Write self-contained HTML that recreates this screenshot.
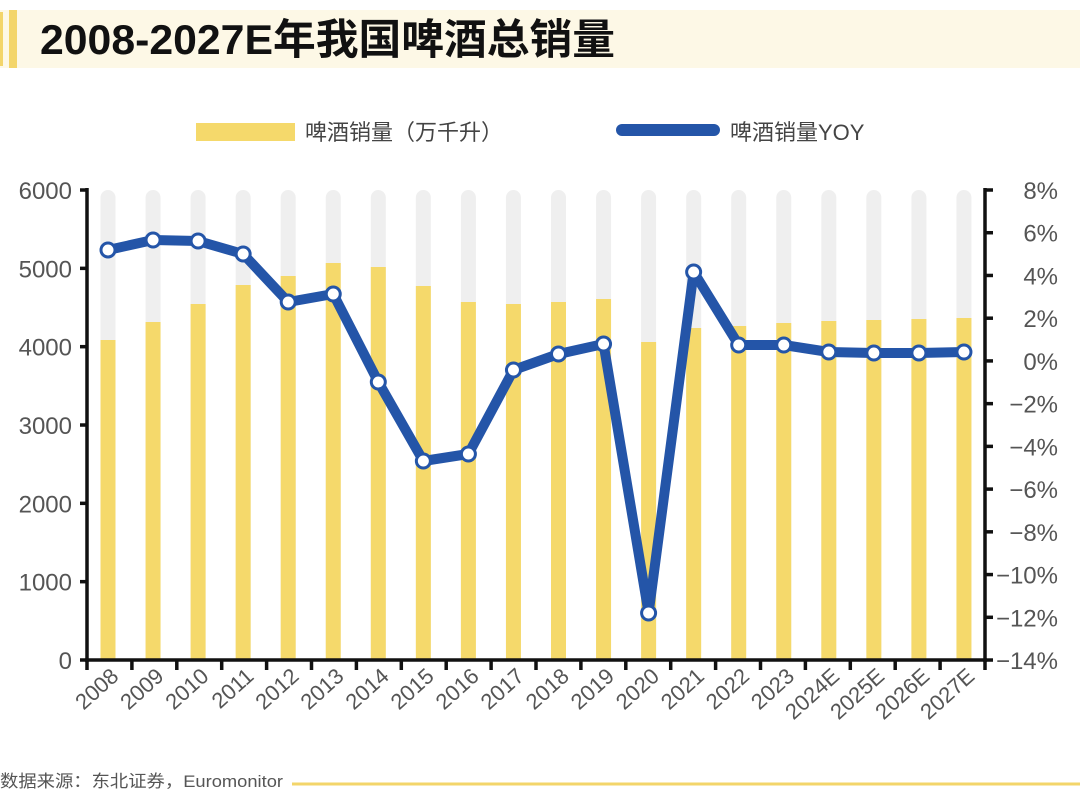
<!DOCTYPE html>
<html><head><meta charset="utf-8"><style>
body{margin:0;background:#fff;width:1080px;height:798px;overflow:hidden;font-family:"Liberation Sans","Noto Sans CJK SC",sans-serif;}
</style></head><body>
<svg width="1080" height="798" xmlns="http://www.w3.org/2000/svg" font-family="Liberation Sans, Noto Sans CJK SC, sans-serif">
<rect x="0" y="10" width="1080" height="58" fill="#fdf8e6"/>
<rect x="0" y="12" width="3" height="54" fill="#f3d56a"/>
<rect x="9" y="10" width="8" height="58" fill="#f3d56a"/>
<text x="40" y="54" font-size="42" font-weight="bold" fill="#111" textLength="575" lengthAdjust="spacingAndGlyphs">2008-2027E年我国啤酒总销量</text>
<rect x="196" y="123" width="99" height="18" fill="#f5d96b"/>
<text x="305" y="140" font-size="22" fill="#444">啤酒销量（万千升）</text>
<line x1="622" y1="130" x2="714" y2="130" stroke="#2455a8" stroke-width="12" stroke-linecap="round"/>
<text x="730" y="140" font-size="22" fill="#444">啤酒销量YOY</text>
<g id="bars"></g>
<g id="axes" stroke="#111" stroke-width="3.5" fill="none"></g>
<g id="lbl" fill="#555" font-size="24"></g>
<text x="0" y="787" font-size="17" fill="#555" textLength="283" lengthAdjust="spacingAndGlyphs">数据来源：东北证券，Euromonitor</text>
<line x1="292" y1="784" x2="1080" y2="784" stroke="#f3d56a" stroke-width="3"/>
</svg>
<script>
const ns="http://www.w3.org/2000/svg";
const svg=document.querySelector('svg');
function el(t,a,p){const e=document.createElementNS(ns,t);for(const k in a)e.setAttribute(k,a[k]);(p||svg).appendChild(e);return e;}
const tops=[340,322,304,285,276,263,267,286,302,304,302,299,342,328,326,323,321,320,319,318];
const pts=[250,240,241,254,302,294,382,461,454,370,354,344,613,272,345,345,352,353,353,352];
const labels=["2008","2009","2010","2011","2012","2013","2014","2015","2016","2017","2018","2019","2020","2021","2022","2023","2024E","2025E","2026E","2027E"];
const bars=document.getElementById('bars');
const cx=i=>108+45.05*i;
for(let i=0;i<20;i++){
 const x=cx(i);
 el('rect',{x:x-7.5,y:190,width:15,height:470,rx:7.5,fill:'#efefef'},bars);
 el('rect',{x:x-7.5,y:tops[i],width:15,height:660-tops[i],fill:'#f5d96b'},bars);
}
const ax=document.getElementById('axes');
el('line',{x1:87,y1:188,x2:87,y2:662},ax);
el('line',{x1:985,y1:188,x2:985,y2:662},ax);
el('line',{x1:85,y1:660,x2:987,y2:660},ax);
for(let i=0;i<=20;i++){const x=87+44.9*i;el('line',{x1:x,y1:660,x2:x,y2:670},ax);}
const lbl=document.getElementById('lbl');
for(let k=0;k<=6;k++){const y=660-78.33*k;el('line',{x1:80,y1:y,x2:87,y2:y},ax);
 const t=el('text',{x:72,y:y+9,'text-anchor':'end'},lbl);t.textContent=k*1000;}
for(let k=0;k<=11;k++){const y=190+42.73*k;el('line',{x1:985,y1:y,x2:993,y2:y},ax);
 const v=8-2*k;const t=el('text',{x:1058,y:y+9,'text-anchor':'end'},lbl);t.textContent=(v<0?'−':'')+Math.abs(v)+'%';}
for(let i=0;i<20;i++){const x=cx(i)+12,y=678;const t=el('text',{x:x,y:y,'text-anchor':'end','font-size':'22',transform:`rotate(-42 ${x} ${y})`},lbl);t.textContent=labels[i];}
el('polyline',{points:pts.map((y,i)=>cx(i)+','+y).join(' '),fill:'none',stroke:'#2455a8','stroke-width':10,'stroke-linejoin':'round'});
for(let i=0;i<20;i++)el('circle',{cx:cx(i),cy:pts[i],r:7,fill:'#fff',stroke:'#2455a8','stroke-width':3});
</script>
</body></html>
